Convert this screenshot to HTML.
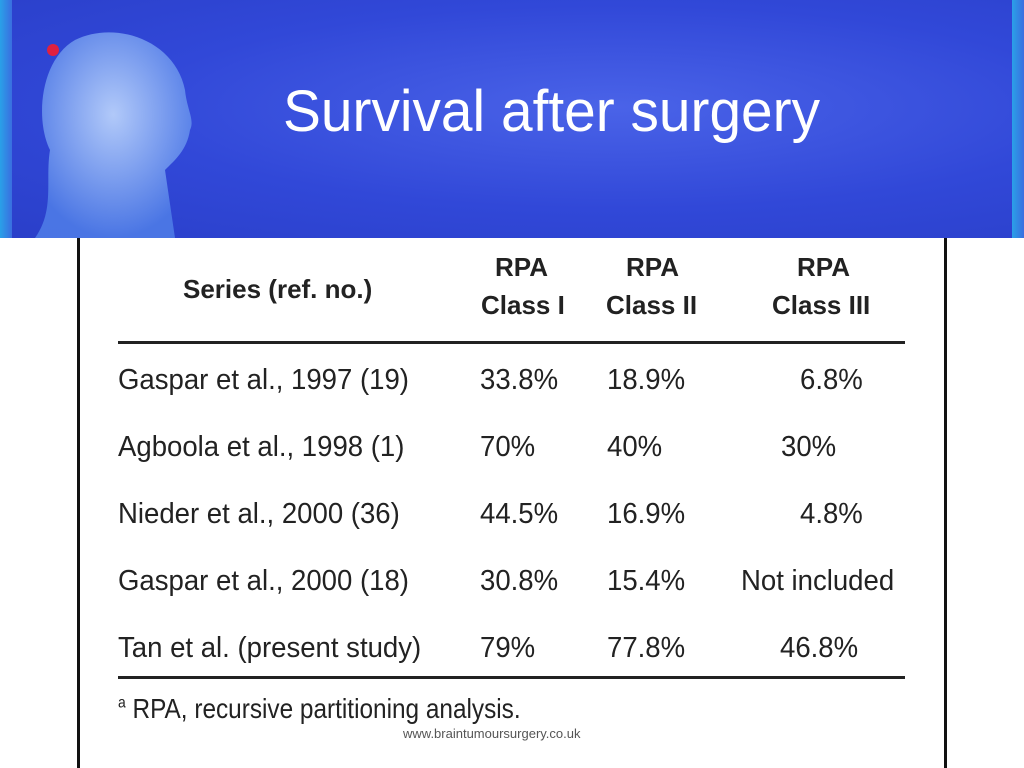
<!DOCTYPE html>
<html><head><meta charset="utf-8"><style>
body{margin:0;width:1024px;height:768px;position:relative;overflow:hidden;background:#fff;font-family:"Liberation Sans",sans-serif}
#banner{position:absolute;left:0;top:0;width:1024px;height:238px;background:radial-gradient(ellipse at 60% 45%,#4a63e8 0%,#3148d8 55%,#2a3fc9 100%)}
.edge{position:absolute;top:0;height:238px;width:12px;background:linear-gradient(90deg,#2aa0e8,#3a6ee0)}
#title{position:absolute;left:283px;top:78px;color:#fff;font-size:58px;transform:scaleX(0.98);transform-origin:left;white-space:nowrap}
.t{position:absolute;font-size:29px;color:#222;white-space:nowrap;transform:scaleX(0.95);transform-origin:left top;line-height:1}
.b{font-weight:bold;font-size:26px;transform:scaleX(1.0)}
.vl{position:absolute;top:238px;width:3px;height:530px;background:#111}
.hl{position:absolute;left:118px;width:787px;height:3px;background:#222}
</style></head><body>
<div id="banner">
<div class="edge" style="left:0"></div><div class="edge" style="right:0"></div>
<svg width="200" height="238" style="position:absolute;left:15px;top:0">
<defs><radialGradient id="g" cx="50%" cy="40%" r="60%"><stop offset="0" stop-color="#c8e0ff"/><stop offset="1" stop-color="#4f7ee8"/></radialGradient></defs>
<path d="M60 40 C100 20 160 40 170 90 C172 110 180 120 175 130 C172 150 160 160 150 170 L160 238 L20 238 C40 210 30 180 35 150 C20 120 25 60 60 40Z" fill="url(#g)" opacity="0.85"/>
<circle cx="38" cy="50" r="6" fill="#e02040"/>
</svg>
<div id="title">Survival after surgery</div>
</div>
<div class="vl" style="left:77px"></div>
<div class="vl" style="left:944px"></div>
<div class="t b" style="left:183px;top:276px">Series (ref. no.)</div>
<div class="t b" style="left:495px;top:254px">RPA</div>
<div class="t b" style="left:481px;top:292px">Class I</div>
<div class="t b" style="left:626px;top:254px">RPA</div>
<div class="t b" style="left:606px;top:292px">Class II</div>
<div class="t b" style="left:797px;top:254px">RPA</div>
<div class="t b" style="left:772px;top:292px">Class III</div>
<div class="hl" style="top:341px"></div>
<div id="rows"></div>
<div class="hl" style="top:676px"></div>
<div class="t" style="left:118px;top:695px;font-size:28px;transform:scaleX(0.87)"><sup style="font-size:16px">a</sup> RPA, recursive partitioning analysis.</div>
<div style="position:absolute;left:403px;top:726px;font-size:13px;color:#555">www.braintumoursurgery.co.uk</div>
<script>
const series=["Gaspar et al., 1997 (19)","Agboola et al., 1998 (1)","Nieder et al., 2000 (36)","Gaspar et al., 2000 (18)","Tan et al. (present study)"];
const class1=["33.8%","70%","44.5%","30.8%","79%"];
const class2=["18.9%","40%","16.9%","15.4%","77.8%"];
const class3=["6.8%","30%","4.8%","Not included","46.8%"];
const x3=[800,781,800,741,780];
const rows=document.getElementById('rows');
series.forEach((s,i)=>{
 const top=366+i*67;
 [[s,118],[class1[i],480],[class2[i],607],[class3[i],x3[i]]].forEach(([txt,x],j)=>{
  const d=document.createElement('div');d.className='t';d.textContent=txt;
  d.style.left=x+'px';d.style.top=top+'px';
  
  
  rows.appendChild(d);
 });
});
</script>
</body></html>
